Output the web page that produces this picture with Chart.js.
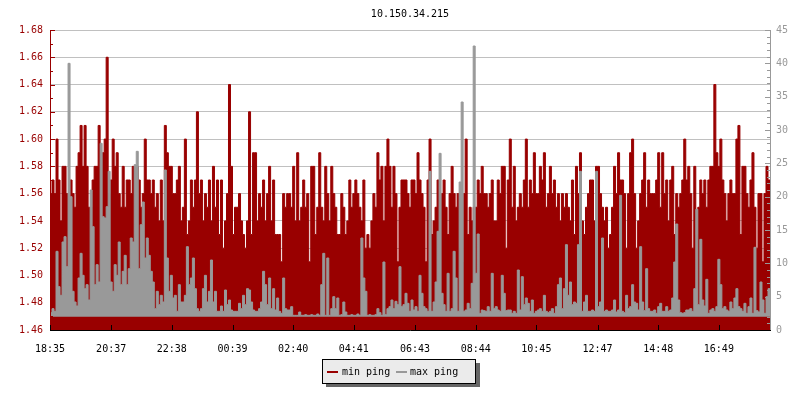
<!DOCTYPE html>
<html>
<head>
<meta charset="utf-8">
<title>10.150.34.215</title>
<script src="https://cdn.jsdelivr.net/npm/chart.js@4.4.0/dist/chart.umd.min.js"></script>
<style>
  html, body { margin: 0; padding: 0; background: #fff; }
  #wrap { width: 800px; height: 400px; }
</style>
</head>
<body>
<div id="wrap"><canvas id="pingChart" width="800" height="400"></canvas></div>
<script>
const hostName = '10.150.34.215';
const seriesNames = ['min ping', 'max ping'];
const timeTicks = ['18:35', '20:37', '22:38', '00:39', '02:40', '04:41', '06:43', '08:44', '10:45', '12:47', '14:48', '16:49'];
const leftTicks = [1.46, 1.48, 1.50, 1.52, 1.54, 1.56, 1.58, 1.60, 1.62, 1.64, 1.66, 1.68];
const rightTicks = [0, 5, 10, 15, 20, 25, 30, 35, 40, 45];
const sampleStepMin = 4;   // one sample every 4 minutes
const spanMin = 1436;      // width of the time window

// min ping, left axis
const minPing = [
  1.56,1.57,1.56,1.60,1.57,1.54,1.58,1.58,1.56,1.56,1.57,1.56,1.55,1.58,1.59,1.61,1.58,1.61,1.58,1.55,
  1.55,1.57,1.58,1.58,1.61,1.59,1.59,1.60,1.66,1.56,1.57,1.60,1.58,1.59,1.56,1.55,1.58,1.55,1.57,1.57,
  1.56,1.58,1.57,1.58,1.57,1.55,1.56,1.60,1.57,1.57,1.56,1.57,1.55,1.56,1.54,1.57,1.54,1.61,1.59,1.58,
  1.58,1.56,1.56,1.57,1.58,1.54,1.55,1.60,1.53,1.54,1.57,1.55,1.57,1.62,1.56,1.57,1.54,1.56,1.55,1.57,
  1.54,1.58,1.55,1.57,1.53,1.57,1.52,1.54,1.56,1.64,1.58,1.53,1.55,1.55,1.56,1.54,1.53,1.52,1.54,1.62,
  1.53,1.59,1.59,1.54,1.56,1.55,1.57,1.54,1.56,1.58,1.54,1.57,1.53,1.53,1.53,1.51,1.56,1.55,1.56,1.56,
  1.55,1.58,1.54,1.59,1.54,1.55,1.57,1.55,1.56,1.51,1.58,1.58,1.53,1.55,1.59,1.55,1.54,1.58,1.56,1.54,
  1.58,1.56,1.55,1.53,1.53,1.56,1.55,1.53,1.54,1.57,1.55,1.56,1.57,1.56,1.55,1.54,1.57,1.52,1.53,1.52,
  1.54,1.56,1.55,1.59,1.57,1.58,1.54,1.58,1.60,1.58,1.55,1.58,1.56,1.51,1.55,1.57,1.57,1.57,1.56,1.55,
  1.57,1.57,1.56,1.59,1.57,1.56,1.55,1.51,1.57,1.60,1.53,1.54,1.55,1.57,1.56,1.56,1.57,1.55,1.53,1.56,
  1.58,1.56,1.55,1.56,1.52,1.51,1.56,1.60,1.53,1.55,1.54,1.55,1.55,1.57,1.56,1.58,1.56,1.56,1.55,1.56,
  1.57,1.54,1.54,1.57,1.56,1.58,1.58,1.52,1.57,1.60,1.55,1.58,1.54,1.55,1.56,1.55,1.57,1.60,1.55,1.57,
  1.56,1.59,1.56,1.56,1.58,1.57,1.59,1.55,1.56,1.58,1.56,1.57,1.55,1.56,1.54,1.56,1.55,1.56,1.55,1.54,
  1.57,1.53,1.58,1.56,1.59,1.54,1.53,1.55,1.56,1.57,1.57,1.54,1.58,1.58,1.56,1.55,1.54,1.55,1.52,1.53,
  1.55,1.58,1.56,1.59,1.57,1.57,1.56,1.52,1.56,1.59,1.60,1.56,1.52,1.54,1.56,1.57,1.59,1.55,1.57,1.56,
  1.56,1.56,1.57,1.59,1.55,1.59,1.56,1.57,1.54,1.57,1.58,1.53,1.56,1.55,1.56,1.57,1.60,1.57,1.58,1.56,
  1.52,1.58,1.53,1.55,1.57,1.56,1.57,1.55,1.57,1.58,1.58,1.64,1.59,1.58,1.60,1.57,1.56,1.54,1.56,1.57,
  1.56,1.56,1.60,1.61,1.53,1.58,1.58,1.56,1.55,1.57,1.59,1.55,1.52,1.56,1.56,1.51,1.56,1.58,1.57,1.56
];

// max ping, right axis
const maxPing = [
  2.6,3.2,2.8,11.8,6.5,5.2,13.2,14.0,9.5,40.0,20.0,5.8,4.2,3.6,7.8,11.5,8.2,6.2,6.8,4.5,
  21.0,15.5,6.8,9.8,7.2,28.0,17.0,16.8,18.5,23.8,7.2,5.8,9.8,8.2,13.2,6.8,8.8,11.2,6.8,9.2,
  13.8,13.2,24.8,26.8,9.2,15.8,19.2,10.8,13.8,11.2,8.8,7.2,3.2,5.8,3.8,5.2,4.2,24.0,10.8,5.8,
  8.2,4.8,5.2,2.8,6.8,4.2,4.2,5.2,12.5,6.8,7.8,10.8,6.2,3.2,2.8,3.2,6.2,8.2,4.2,5.8,
  10.5,4.2,5.8,2.8,2.8,3.6,2.8,6.0,3.8,4.5,3.0,2.8,2.8,2.8,4.0,3.2,5.2,3.8,6.2,6.0,
  4.2,3.0,2.8,2.8,3.2,4.2,8.8,6.8,3.8,7.8,3.2,6.2,3.0,4.8,2.8,2.5,7.8,3.2,3.0,3.0,
  3.5,2.2,2.2,2.2,2.7,2.2,2.2,2.3,2.2,2.2,2.3,2.2,2.2,2.4,2.2,6.8,11.5,2.2,10.8,2.2,
  3.2,5.0,3.2,4.8,2.2,2.3,4.2,2.7,2.2,2.2,2.3,2.2,2.2,2.4,2.2,13.8,7.8,5.8,2.2,2.3,
  2.2,2.2,2.3,3.2,2.6,2.2,10.2,2.3,3.2,3.5,4.5,3.2,4.3,3.8,9.5,3.5,3.8,5.5,4.0,2.8,
  4.5,3.0,3.5,2.8,8.2,5.5,3.5,3.2,2.8,23.8,2.8,4.2,7.2,14.8,26.5,5.5,3.8,2.8,8.5,2.8,
  3.2,11.8,7.8,2.8,22.2,34.2,2.8,3.0,4.0,3.2,7.0,42.6,8.5,14.4,2.5,3.0,2.9,2.8,3.5,2.8,
  8.5,3.2,3.5,3.0,2.8,8.2,5.5,2.9,3.0,3.0,2.5,2.8,2.5,9.0,3.0,8.0,3.8,4.8,4.0,2.8,
  4.5,2.5,2.8,3.0,3.2,2.8,5.2,2.8,2.6,2.8,3.2,2.5,3.5,6.8,7.8,3.2,6.2,12.8,5.2,7.2,
  3.8,4.2,4.0,12.8,23.8,2.8,4.2,5.2,2.8,2.8,3.0,2.8,23.8,3.5,4.2,13.8,2.8,3.0,2.8,2.8,
  3.0,4.5,2.7,3.0,20.2,2.8,2.6,5.2,3.2,3.5,6.8,4.2,4.0,3.0,12.5,4.2,2.9,9.2,3.2,2.8,
  2.8,3.0,2.5,3.5,4.0,2.8,2.8,3.5,2.8,3.0,4.8,10.2,15.9,4.5,2.6,2.5,2.6,3.0,3.0,3.2,
  2.8,6.2,18.1,3.8,13.6,4.5,3.6,7.6,2.5,3.0,3.2,2.8,3.5,10.6,6.8,3.2,3.5,3.0,2.8,4.2,
  3.2,4.8,6.2,3.5,3.2,2.8,4.0,2.5,3.5,4.8,2.5,12.4,2.9,2.7,7.2,4.5,2.5,5.0,6.2,4.8
];

const RED = '#990000';
const GRAY = '#999999';
const FONT = "'DejaVu Sans Mono', monospace";

function minutesFromStart(label) {
  const [h, m] = label.split(':').map(Number);
  const [h0, m0] = timeTicks[0].split(':').map(Number);
  let d = (h * 60 + m) - (h0 * 60 + m0);
  if (d < 0) d += 1440;
  return d;
}
const tickMinutes = timeTicks.map(minutesFromStart);
const sampleMinutes = minPing.map((_, i) => i * sampleStepMin);

// axis lines and the small inward tick marks, title and the boxed legend
const chrome = {
  id: 'chrome',
  afterDatasetsDraw(chart) {
    const { ctx, chartArea: a, scales } = chart;
    const px = v => Math.round(v) + 0.5;
    ctx.save();
    ctx.lineWidth = 1;

    ctx.strokeStyle = RED;
    ctx.beginPath();
    ctx.moveTo(px(a.left), a.top);
    ctx.lineTo(px(a.left), a.bottom);
    for (let i = 0; i < leftTicks.length; i++) {
      const yy = px(scales.y.getPixelForValue(leftTicks[i]));
      ctx.moveTo(a.left, yy); ctx.lineTo(a.left + 5, yy);
      if (i < leftTicks.length - 1) {
        const ym = px(scales.y.getPixelForValue((leftTicks[i] + leftTicks[i + 1]) / 2));
        ctx.moveTo(a.left, ym); ctx.lineTo(a.left + 3, ym);
      }
    }
    ctx.stroke();

    ctx.strokeStyle = GRAY;
    ctx.beginPath();
    ctx.moveTo(px(a.right), a.top);
    ctx.lineTo(px(a.right), a.bottom);
    for (let i = 0; i < rightTicks.length; i++) {
      const yy = px(scales.y1.getPixelForValue(rightTicks[i]));
      ctx.moveTo(a.right + 1, yy); ctx.lineTo(a.right - 5, yy);
      if (i < rightTicks.length - 1) {
        const step = (rightTicks[i + 1] - rightTicks[i]) / 5;
        for (let k = 1; k < 5; k++) {
          const ym = px(scales.y1.getPixelForValue(rightTicks[i] + k * step));
          ctx.moveTo(a.right + 1, ym); ctx.lineTo(a.right - 3, ym);
        }
      }
    }
    ctx.stroke();

    ctx.strokeStyle = '#000';
    ctx.beginPath();
    ctx.moveTo(a.left, px(a.bottom));
    ctx.lineTo(a.right + 1, px(a.bottom));
    tickMinutes.forEach(m => {
      const xx = px(scales.x.getPixelForValue(m));
      ctx.moveTo(xx, a.bottom); ctx.lineTo(xx, a.bottom - 5);
    });
    ctx.stroke();
    ctx.restore();
  },
  afterDraw(chart) {
    const { ctx, chartArea: a } = chart;
    ctx.save();
    ctx.font = '10px ' + FONT;
    ctx.fillStyle = '#000';
    ctx.textAlign = 'center';
    ctx.textBaseline = 'alphabetic';
    ctx.fillText(hostName, (a.left + a.right) / 2, 17);

    // legend box with drop shadow
    ctx.fillStyle = '#666666';
    ctx.fillRect(326, 363, 154, 24);
    ctx.fillStyle = '#ebebeb';
    ctx.fillRect(322, 359, 154, 24);
    ctx.strokeStyle = '#000';
    ctx.lineWidth = 1;
    ctx.strokeRect(322.5, 359.5, 153, 24);

    ctx.textAlign = 'left';
    ctx.fillStyle = RED;
    ctx.fillRect(327, 371, 11, 2);
    ctx.fillStyle = '#000';
    ctx.fillText(seriesNames[0], 342, 375);
    ctx.fillStyle = GRAY;
    ctx.fillRect(396, 371, 11, 2);
    ctx.fillStyle = '#000';
    ctx.fillText(seriesNames[1], 410, 375);
    ctx.restore();
  }
};

Chart.defaults.font.family = FONT;
Chart.defaults.font.size = 10;

new Chart(document.getElementById('pingChart'), {
  type: 'line',
  data: {
    labels: sampleMinutes,
    datasets: [
      {
        label: seriesNames[0],
        data: minPing,
        yAxisID: 'y',
        borderColor: RED,
        backgroundColor: RED,
        borderWidth: 1,
        stepped: true,
        fill: 'start',
        pointRadius: 0,
        order: 2
      },
      {
        label: seriesNames[1],
        data: maxPing,
        yAxisID: 'y1',
        borderColor: GRAY,
        backgroundColor: GRAY,
        borderWidth: 1,
        stepped: true,
        fill: { value: 2 },
        pointRadius: 0,
        order: 1
      }
    ]
  },
  options: {
    responsive: false,
    animation: false,
    devicePixelRatio: 1,
    events: [],
    layout: { padding: { top: 30, left: 0, right: 0, bottom: 0 } },
    plugins: {
      legend: { display: false },
      title: { display: false },
      tooltip: { enabled: false }
    },
    scales: {
      x: {
        type: 'linear',
        min: 0,
        max: spanMin,
        grid: { display: false },
        border: { display: false },
        afterBuildTicks: s => { s.ticks = tickMinutes.map(v => ({ value: v })); },
        afterFit: s => { s.height = 70; },
        ticks: {
          autoSkip: false,
          maxRotation: 0,
          padding: 5,
          color: '#000',
          callback: (v, i) => timeTicks[i]
        }
      },
      y: {
        position: 'left',
        min: leftTicks[0],
        max: leftTicks[leftTicks.length - 1],
        grid: { color: '#c0c0c0', drawTicks: false },
        border: { display: false },
        afterBuildTicks: s => { s.ticks = leftTicks.map(v => ({ value: v })); },
        afterFit: s => { s.width = 50; },
        ticks: { padding: 7, color: RED, callback: v => v.toFixed(2) }
      },
      y1: {
        position: 'right',
        min: rightTicks[0],
        max: rightTicks[rightTicks.length - 1],
        grid: { display: false, drawTicks: false },
        border: { display: false },
        afterBuildTicks: s => { s.ticks = rightTicks.map(v => ({ value: v })); },
        afterFit: s => { s.width = 30; },
        ticks: { padding: 6, color: GRAY, callback: v => String(v) }
      }
    }
  },
  plugins: [chrome]
});
</script>
</body>
</html>
